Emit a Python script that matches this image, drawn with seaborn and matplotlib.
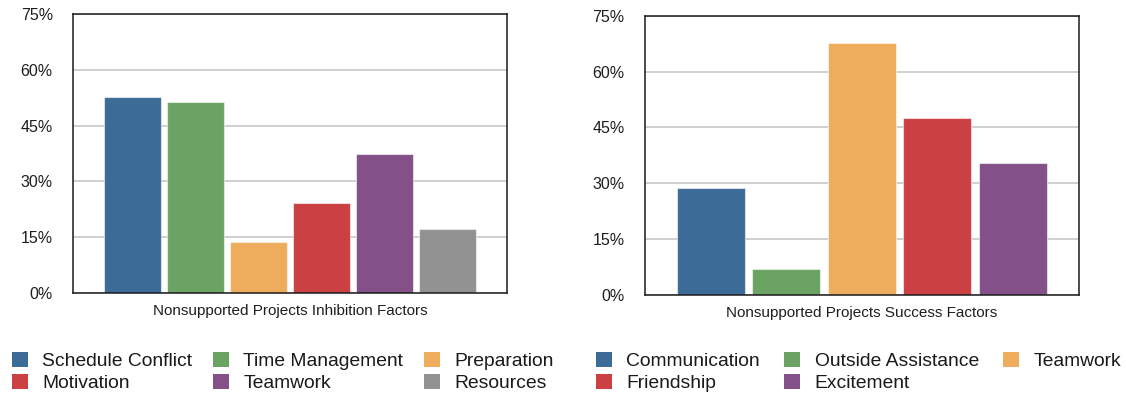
import matplotlib
matplotlib.use("Agg")
import matplotlib.pyplot as plt
from matplotlib.patches import Patch
from matplotlib.ticker import FuncFormatter
import seaborn as sns
import pandas as pd

# ---------------- data ----------------
left_group = "Nonsupported Projects Inhibition Factors"
left_factors = ["Schedule Conflict", "Time Management", "Preparation",
                "Motivation", "Teamwork", "Resources"]
left_values = [52.8, 51.3, 13.7, 24.1, 37.4, 17.3]

right_group = "Nonsupported Projects Success Factors"
right_factors = ["Communication", "Outside Assistance", "Teamwork",
                 "Friendship", "Excitement"]
right_values = [28.7, 6.8, 67.7, 47.6, 35.4]

y_ticks = [0, 15, 30, 45, 60, 75]

# ---------------- style ----------------
sns.set_theme(style="white")
plt.rcParams["font.family"] = ["Liberation Sans", "DejaVu Sans"]

blue = "#3d6b98"
green = "#6ba363"
orange = "#edad5c"
red = "#ca4043"
purple = "#845088"
gray = "#919291"
left_colors = [blue, green, orange, red, purple, gray]
right_colors = [blue, green, orange, red, purple]

fig = plt.figure(figsize=(11.26, 3.96), dpi=100)
W, H = 1126, 396
ax1 = fig.add_axes([73 / W, (H - 293) / H, 434 / W, 279 / H])
ax2 = fig.add_axes([644.7 / W, (H - 294.7) / H, 434.3 / W, 278.7 / H])


def draw(ax, group, factors, values, colors):
    df = pd.DataFrame({"group": [group] * len(factors),
                       "factor": factors, "value": values})
    sns.barplot(data=df, x="group", y="value", hue="factor",
                hue_order=factors, palette=colors, width=0.87, gap=0.1,
                saturation=1, legend=False, ax=ax,
                edgecolor=(1, 1, 1, 0.55), linewidth=0.8, zorder=3)
    ax.set_xlim(-0.5, 0.5)
    ax.set_ylim(0, 75)
    ax.set_yticks(y_ticks)
    ax.yaxis.set_major_formatter(FuncFormatter(lambda v, p: f"{v:.0f}%"))
    ax.set_xlabel("")
    ax.set_ylabel("")
    ax.grid(axis="y", color="#c4c4c4", linewidth=1.1, zorder=0)
    ax.grid(axis="x", visible=False)
    ax.set_axisbelow(True)
    for s in ax.spines.values():
        s.set_visible(True)
        s.set_color("#1a1a1a")
        s.set_linewidth(1.1)
        s.set_zorder(5)
    ax.tick_params(axis="y", length=0, pad=14.5, labelsize=11.5,
                   labelcolor="#1e1e1e")
    ax.tick_params(axis="x", length=0, pad=8, labelsize=11,
                   labelcolor="#1e1e1e")


draw(ax1, left_group, left_factors, left_values, left_colors)
draw(ax2, right_group, right_factors, right_values, right_colors)

# ---------------- legends ----------------
def make_legend(factors, colors, order, x, y, colspace):
    handles = [Patch(facecolor=colors[i], edgecolor="none", label=factors[i])
               for i in order]
    return fig.legend(handles=handles, loc="upper left",
                      bbox_to_anchor=(x / W, (H - y) / H),
                      bbox_transform=fig.transFigure,
                      ncol=3, frameon=False, fontsize=13.9,
                      handlelength=0.84, handleheight=0.82,
                      handletextpad=0.75, columnspacing=colspace,
                      labelspacing=0.23, borderpad=0, borderaxespad=0,
                      labelcolor="#1a1a1a")


# column-major order so rows read left-to-right like the reference
make_legend(left_factors, left_colors, [0, 3, 1, 4, 2, 5], 11.7, 351.5, 1.05)
make_legend(right_factors, right_colors, [0, 3, 1, 4, 2], 595.5, 351.5, 1.25)

fig.savefig("out.png", dpi=100)
